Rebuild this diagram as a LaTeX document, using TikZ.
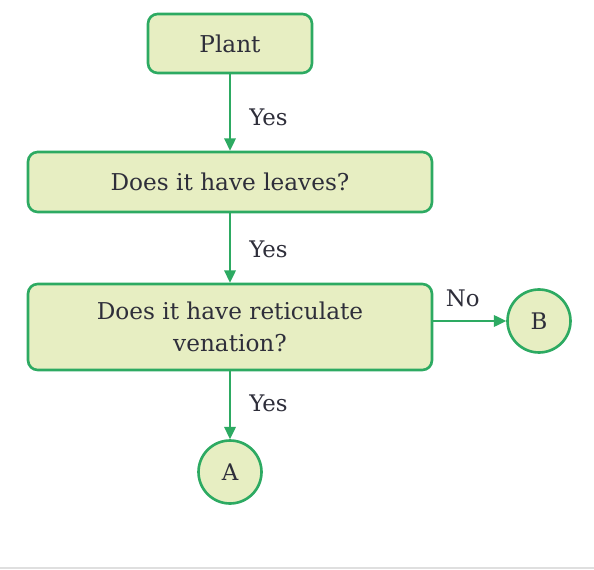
\documentclass[tikz,border=0pt]{standalone}
\usepackage{fontspec}
\setmainfont{DejaVu Serif}
\usetikzlibrary{arrows.meta}
\definecolor{KeyGreen}{HTML}{2DAA62}
\definecolor{KeyFill}{HTML}{E7EEC2}
\definecolor{KeyText}{HTML}{2E2E3A}
\tikzset{
  keybox/.style={draw=KeyGreen, fill=KeyFill, line width=1.5pt, rounded corners=5.5pt,
    text=KeyText, align=center, font=\fontsize{13.2}{18.2}\selectfont, inner sep=0pt},
  keyend/.style={circle, draw=KeyGreen, fill=KeyFill, line width=1.5pt, minimum size=1.26cm,
    text=KeyText, font=\fontsize{13}{15}\selectfont, inner sep=0pt},
  keyarrow/.style={draw=KeyGreen, line width=1.3pt, -{Triangle[length=7pt,width=6.5pt]}},
  answer/.style={text=KeyText, font=\fontsize{13}{15}\selectfont}
}
\begin{document}
\begin{tikzpicture}[x=0.02cm, y=-0.02cm]
    \useasboundingbox (0,0) rectangle (594,570);
    \draw[gray!25, line width=0.8pt] (0,568) -- (594,568);
    \node[keybox, minimum width=3.28cm, minimum height=1.18cm] (plant) at (230,43.5) {Plant};
    \node[keybox, minimum width=8.08cm, minimum height=1.2cm] (leaves) at (230,182) {Does it have leaves?};
    \node[keybox, minimum width=8.08cm, minimum height=1.72cm] (venation) at (230,327) {\raisebox{-2pt}{\parbox{7cm}{\centering Does it have reticulate\\venation?}}};
    \node[keyend] (B) at (539,321) {B};
    \node[keyend] (A) at (230,472) {A};
    \draw[keyarrow] (plant) -- (leaves) node[answer, midway, right=7pt, yshift=-3pt]{Yes};
    \draw[keyarrow] (leaves) -- (venation) node[answer, midway, right=7pt, yshift=-1pt]{Yes};
    \draw[keyarrow] (venation.east |- B) -- (B) node[answer, midway, above=4pt, xshift=-4pt]{No};
    \draw[keyarrow] (venation) -- (A) node[answer, midway, right=7pt, yshift=1pt]{Yes};
\end{tikzpicture}
\end{document}
